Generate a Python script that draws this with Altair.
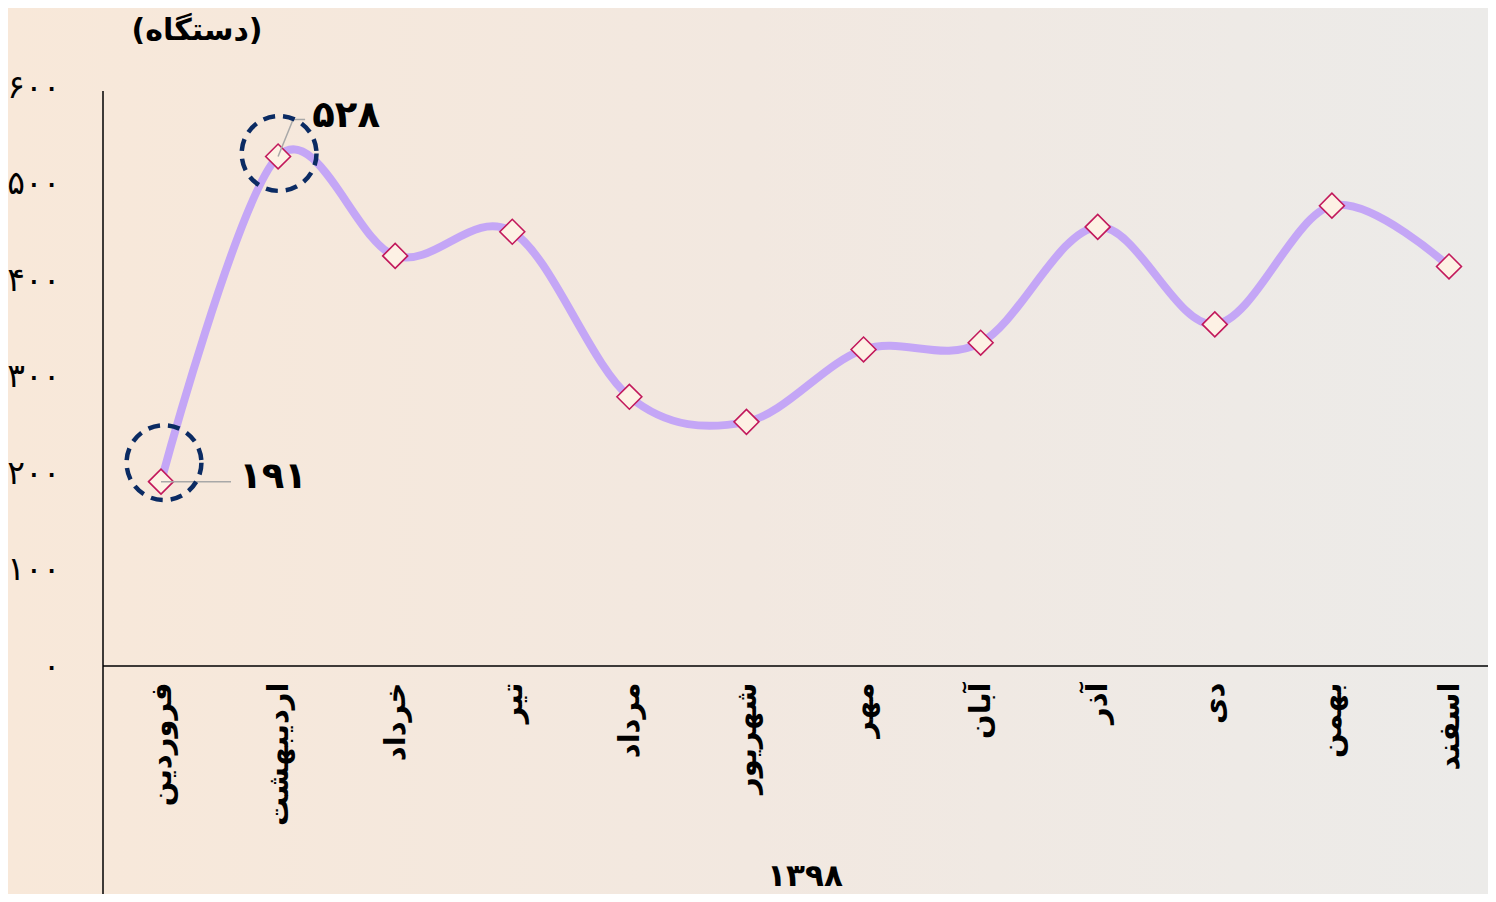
import altair as alt
import pandas as pd

months = ["فروردین", "اردیبهشت", "خرداد", "تیر", "مرداد", "شهریور",
          "مهر", "آبان", "آذر", "دی", "بهمن", "اسفند"]
values = [191, 528, 425, 450, 279, 253, 328, 335, 455, 354, 477, 414]
y_ticks = [0, 100, 200, 300, 400, 500, 600]
y_tick_labels = ["۰", "۱۰۰", "۲۰۰", "۳۰۰", "۴۰۰", "۵۰۰", "۶۰۰"]
unit_title = "(دستگاه)"
year_title = "۱۳۹۸"
highlight = ["فروردین", "اردیبهشت"]

FA = str.maketrans("0123456789", "۰۱۲۳۴۵۶۷۸۹")
df = pd.DataFrame({"month": months, "value": values,
                   "label": [str(v).translate(FA) for v in values]})

W, H = 1385, 579
FONT = "DejaVu Sans"

label_expr = "[" + ",".join("'%s'" % s for s in y_tick_labels) + "][round(datum.value/100)]"

x_enc = alt.X("month:N", sort=months,
              scale=alt.Scale(type="point", range=[58, 1346], padding=0),
              axis=alt.Axis(title=None, domain=False, ticks=False, labelAngle=270,
                            labelAlign="right", labelBaseline="middle",
                            labelPadding=16, labelFontSize=29, labelFont=FONT,
                            labelFontWeight="bold", labelColor="#000000", zindex=1))
y_enc = alt.Y("value:Q", scale=alt.Scale(domain=[0, 600], nice=False, zero=True),
              axis=alt.Axis(title=None, domain=False, ticks=False, grid=False,
                            values=y_ticks, labelExpr=label_expr, labelPadding=43,
                            labelFontSize=33, labelFont=FONT, labelColor="#000000",
                            zindex=1))

grad = alt.LinearGradient(gradient="linear", x1=0, x2=1, y1=0, y2=0,
                          stops=[alt.GradientStop(color="#f8e8d9", offset=0),
                                 alt.GradientStop(color="#f2e8e0", offset=0.5),
                                 alt.GradientStop(color="#ecebe9", offset=1)])

one = alt.Data(values=[{"a": 1}])
bg = alt.Chart(one).mark_rect(fill=grad).encode(
    x=alt.value(-95), x2=alt.value(W), y=alt.value(-79), y2=alt.value(H + 228))

yaxis_line = alt.Chart(one).mark_rule(color="#000000", strokeWidth=1.5).encode(
    x=alt.value(0), y=alt.value(4), y2=alt.value(H + 228))
xaxis_line = alt.Chart(one).mark_rule(color="#000000", strokeWidth=1.5).encode(
    x=alt.value(0), x2=alt.value(W), y=alt.value(H))

base = alt.Chart(df)
line = base.mark_line(interpolate="cardinal", color="#c4a6f6", strokeWidth=8).encode(
    x=x_enc, y=y_enc)
markers = base.mark_point(shape="diamond", size=620, filled=True, fill="#fdf1e4",
                          stroke="#c2185b", strokeWidth=1.6, opacity=1).encode(
    x=alt.X("month:N", sort=months), y="value:Q")

first = base.transform_filter(alt.datum.month == highlight[0])
second = base.transform_filter(alt.datum.month == highlight[1])

lead1 = first.mark_rule(color="#a8a8a8", strokeWidth=1.5, x2Offset=70).encode(
    x=alt.X("month:N", sort=months), x2="month:N", y="value:Q")
lead2a = second.mark_rule(color="#a8a8a8", strokeWidth=1.5, x2Offset=15, y2Offset=-37).encode(
    x=alt.X("month:N", sort=months), x2="month:N", y="value:Q", y2="value:Q")
lead2b = second.mark_rule(color="#a8a8a8", strokeWidth=1.5, xOffset=15, x2Offset=27,
                          yOffset=-37, y2Offset=-37).encode(
    x=alt.X("month:N", sort=months), x2="month:N", y="value:Q", y2="value:Q")

circ1 = first.mark_point(shape="circle", size=5600, filled=False, color="#0b2b63",
                         strokeWidth=4.5, strokeDash=[12, 8], yOffset=-19, xOffset=3,
                         opacity=1).encode(x=alt.X("month:N", sort=months), y="value:Q")
circ2 = second.mark_point(shape="circle", size=5600, filled=False, color="#0b2b63",
                          strokeWidth=4.5, strokeDash=[12, 8], yOffset=-3, xOffset=1,
                          opacity=1).encode(x=alt.X("month:N", sort=months), y="value:Q")

txt1 = first.mark_text(dx=112, dy=-5, fontSize=37, font=FONT, fontWeight="bold",
                       color="#000000").encode(
    x=alt.X("month:N", sort=months), y="value:Q", text="label:N")
txt2 = second.mark_text(dx=68, dy=-40, fontSize=37, font=FONT, fontWeight="bold",
                        color="#000000").encode(
    x=alt.X("month:N", sort=months), y="value:Q", text="label:N")

unit = alt.Chart(alt.Data(values=[{"t": unit_title}])).mark_text(
    fontSize=30, font=FONT, fontWeight="bold", color="#000000").encode(
    x=alt.value(94), y=alt.value(-56), text="t:N")
year = alt.Chart(alt.Data(values=[{"t": year_title}])).mark_text(
    fontSize=31, font=FONT, fontWeight="bold", color="#000000").encode(
    x=alt.value(702), y=alt.value(790), text="t:N")

chart = alt.layer(bg, line, markers, lead1, lead2a, lead2b, circ1, circ2,
                  txt1, txt2, unit, year, yaxis_line, xaxis_line).properties(
    width=W, height=H,
    autosize=alt.AutoSizeParams(type="none"),
    padding={"left": 95, "top": 79, "right": 0, "bottom": 228},
    background="#f5e9de",
).configure_view(stroke=None)

chart.save("out.html", embed_options={"renderer": "svg", "actions": False})
